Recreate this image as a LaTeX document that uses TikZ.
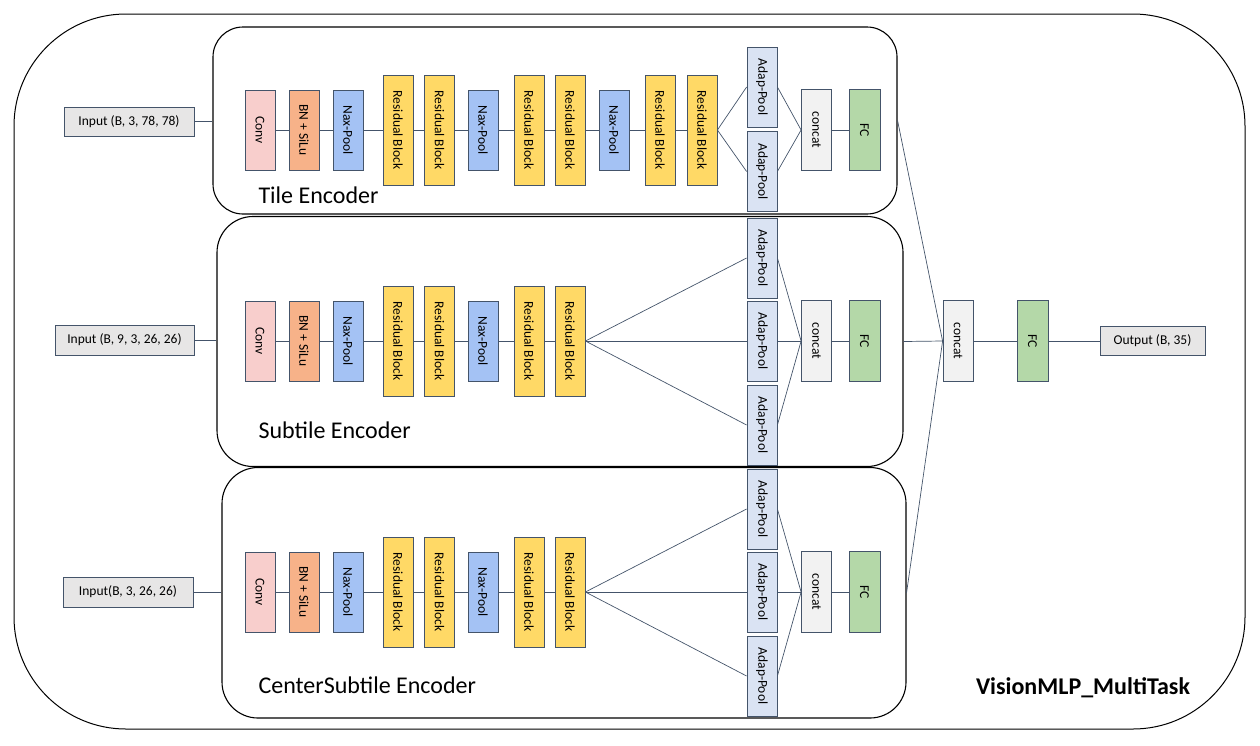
\documentclass[tikz,border=0pt]{standalone}
\usepackage{fontspec}
\setmainfont{Carlito}
\usepackage{graphicx}

\definecolor{edgecol}{HTML}{44546A}
\definecolor{convcol}{HTML}{F8CECC}
\definecolor{bncol}{HTML}{F7B289}
\definecolor{naxcol}{HTML}{A4C2F4}
\definecolor{rescol}{HTML}{FFD966}
\definecolor{adapcol}{HTML}{DAE3F3}
\definecolor{catcol}{HTML}{F2F2F2}
\definecolor{fccol}{HTML}{B4D8A8}
\definecolor{iocol}{HTML}{E7E6E6}

\tikzset{
    blk/.style={draw=edgecol, line width=0.8pt, minimum width=30pt, minimum height=80pt, inner sep=0pt, font=\fontsize{13.5}{14}\selectfont},
    convbox/.style={blk, fill=convcol},
    bnbox/.style={blk, fill=bncol},
    naxbox/.style={blk, fill=naxcol},
    resbox/.style={blk, fill=rescol, minimum height=110pt},
    adapbox/.style={blk, fill=adapcol},
    catbox/.style={blk, fill=catcol, minimum height=81pt},
    fcbox/.style={blk, fill=fccol, minimum height=81pt, minimum width=31pt},
    iobox/.style={blk, fill=iocol, minimum height=29pt},
    encframe/.style={draw=black, line width=1.1pt, rounded corners=#1, inner sep=0pt},
    link/.style={draw=edgecol, line width=0.7pt},
    enclabel/.style={anchor=west, font=\fontsize{24}{28}\selectfont},
}
\newcommand{\vlab}[1]{\rotatebox{-90}{#1}}

\begin{document}
\begin{tikzpicture}[x=1pt, y=-1pt]
    \useasboundingbox (0,0) rectangle (1260,745);
    \draw[line width=1pt, rounded corners=112pt] (14,14) rectangle (1245,729);

    \node[encframe=30pt, minimum width=684pt, minimum height=187pt] (tileenc) at (555,120.5) {};
    \node[encframe=36pt, minimum width=686pt, minimum height=250pt] (subenc) at (560,341.5) {};
    \node[encframe=36pt, minimum width=684pt, minimum height=250.5pt] (cenenc) at (564,592.75) {};

    \node[enclabel] (tilelab) at (255,195) {Tile Encoder};
    \node[enclabel] (sublab) at (255,430) {Subtile Encoder};
    \node[enclabel] (cenlab) at (255,685) {CenterSubtile Encoder};
    \node[font=\fontsize{24}{28}\selectfont\bfseries] (mainlab) at (1083,688) {VisionMLP\_MultiTask};

    \node[iobox, minimum width=130pt] (intile) at (129,121.5) {Input (B, 3, 78, 78)};
    \node[iobox, minimum width=139pt, minimum height=30pt] (insub) at (124.5,340) {Input (B, 9, 3, 26, 26)};
    \node[iobox, minimum width=130pt, minimum height=30pt] (incen) at (128,592) {Input(B, 3, 26, 26)};
    \draw[link] (intile.east) -- (intile.east -| tileenc.west);
    \draw[link] (insub.east) -- (insub.east -| subenc.west);
    \draw[link] (incen.east) -- (incen.east -| cenenc.west);

    \foreach \r/\y in {t/130, s/341, c/592}{
        \foreach \n/\x/\s/\t in {1/260/convbox/Conv, 2/304/bnbox/BN + SiLu, 3/348/naxbox/Nax-Pool, 4/398/resbox/Residual Block, 5/439.5/resbox/Residual Block, 6/483/naxbox/Nax-Pool, 7/529/resbox/Residual Block, 8/570/resbox/Residual Block}{
            \node[\s] (\r\n) at (\x,\y) {\vlab{\t}};
        }
        \foreach \n [remember=\n as \p (initially 1)] in {2,...,8}{
            \draw[link] (\r\p) -- (\r\n);
        }
        \node[catbox] (cat\r) at (816.5,\y) {\vlab{concat}};
        \node[fcbox] (fc\r) at (864.5,\y) {\vlab{FC}};
        \draw[link] (cat\r) -- (fc\r);
    }

    \foreach \n/\x/\s/\t in {9/614/naxbox/Nax-Pool, 10/660/resbox/Residual Block, 11/702/resbox/Residual Block}{
        \node[\s] (t\n) at (\x,130) {\vlab{\t}};
    }
    \foreach \n [remember=\n as \p (initially 8)] in {9,10,11}{
        \draw[link] (t\p) -- (t\n);
    }

    \node[adapbox] (adt1) at (762,87) {\vlab{Adap-Pool}};
    \node[adapbox] (adt2) at (762,171.5) {\vlab{Adap-Pool}};
    \foreach \a in {1,2}{
        \draw[link] (t11.east) -- (adt\a.west);
        \draw[link] (adt\a.east) -- (catt.west);
    }

    \foreach \r/\y in {s/341, c/592}{
        \foreach \a/\d in {1/-83, 2/0, 3/84}{
            \node[adapbox] (ad\r\a) at (762,\y+\d) {\vlab{Adap-Pool}};
            \draw[link] (\r8.east) -- (ad\r\a.west);
            \draw[link] (ad\r\a.east) -- (cat\r.west);
        }
    }

    \node[catbox] (fincat) at (958,341) {\vlab{concat}};
    \node[fcbox] (finfc) at (1032.5,341) {\vlab{FC}};
    \node[iobox, minimum width=105pt] (out) at (1152.5,341) {Output (B, 35)};
    \foreach \e in {tileenc, subenc, cenenc}{
        \draw[link] (\e.east) -- (fincat.west);
    }
    \draw[link] (fincat) -- (finfc);
    \draw[link] (finfc) -- (out);
\end{tikzpicture}
\end{document}
